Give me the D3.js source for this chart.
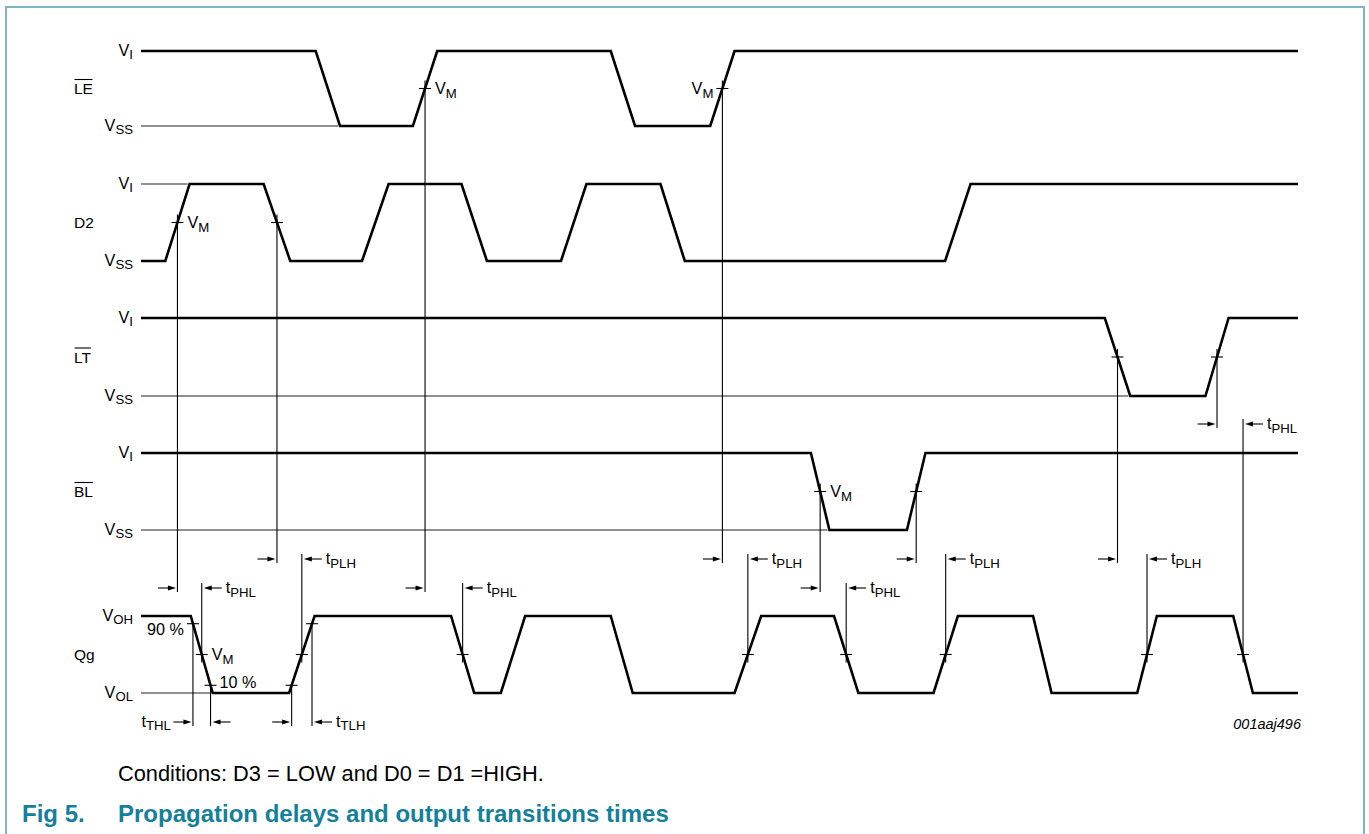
<!DOCTYPE html>
<html><head><meta charset="utf-8">
<script src="https://cdn.jsdelivr.net/npm/d3@7"></script>
<style>
body{margin:0;background:#fff}
svg{display:block}
text{font-family:"Liberation Sans",Arial,Helvetica,sans-serif;fill:#000}
</style>
</head><body>
<svg id="c" width="1369" height="834"></svg>
<script>
// ---------------- data ----------------
const timeDomain = [0, 100];
const signalNames = ["LE", "D2", "LT", "BL", "Qg"];
const overlined = [true, false, true, true, false];
const highLabelSub = ["I", "I", "I", "I", "OH"];
const lowLabelSub = ["SS", "SS", "SS", "SS", "OL"];
const startLevels = [1, 0, 1, 1, 1];
const LE_edges = [[15.1, 17.2], [23.5, 25.6], [40.6, 42.7], [49.2, 51.3]];
const D2_edges = [[2.1, 4.2], [10.6, 12.9], [19.1, 21.4], [27.7, 29.9], [36.3, 38.5], [44.9, 47.0], [69.5, 71.7]];
const LT_edges = [[83.3, 85.5], [92.0, 94.0]];
const BL_edges = [[57.9, 59.5], [66.2, 67.8]];
const Qg_edges = [[4.3, 6.2], [12.8, 15.0], [26.8, 28.8], [31.1, 33.2], [40.6, 42.5], [51.3, 53.6],
                  [59.9, 62.0], [68.5, 70.6], [77.1, 78.7], [86.1, 87.8], [94.4, 96.1]];
// propagation delay measurements (input edge VM -> output edge VM)
const delaySignals = ["D2", "D2", "LE", "LE", "BL", "BL", "LT", "LT"];
const delayInEdges = [0, 1, 1, 3, 0, 1, 0, 1];
const delayOutEdges = [0, 1, 2, 5, 6, 7, 9, 10];
const delayLabels = ["PHL", "PLH", "PHL", "PLH", "PHL", "PLH", "PLH", "PHL"];
const delayTiers = [1, 0, 1, 0, 1, 0, 0, 2];
// output transition time measurements (Qg edges, 10 % / 90 %)
const transEdges = [0, 1];
const transLabels = ["THL", "TLH"];
const transLevels = [0.9, 0.1];
const percentLabels = ["90 %", "10 %"];
// VM annotations: signal, edge, side
const vmSignals = ["LE", "LE", "D2", "BL", "Qg"];
const vmEdges = [1, 3, 0, 0, 0];
const vmSides = ["right", "left", "right", "right", "right"];
const figCode = "001aaj496";
const conditionsText = "Conditions: D3 = LOW and D0 = D1 =HIGH.";
const figNumber = "Fig 5.";
const figTitle = "Propagation delays and output transitions times";

// ---------------- layout ----------------
const svg = d3.select("#c");
const rowHigh = [51, 184, 318, 453, 616];
const rowLow = [126, 261, 396, 530, 693];
const tierY = [559, 588, 424];
const transY = 722;
const x = d3.scaleLinear().domain(timeDomain).range([141, 1298]);
const yRow = signalNames.map((n, i) => d3.scaleLinear().domain([0, 1]).range([rowLow[i], rowHigh[i]]));
const edgesBySignal = [LE_edges, D2_edges, LT_edges, BL_edges, Qg_edges];
const sIdx = n => signalNames.indexOf(n);
const FS = 16.2, SFS = 13.2, NFS = 15.5;

// frame
svg.append("path")
  .attr("d", "M6,840 V7 H1364 V840")
  .attr("fill", "none").attr("stroke", "#7db6c6").attr("stroke-width", 2);

function levelBefore(i, e) { return e % 2 === 0 ? startLevels[i] : 1 - startLevels[i]; }
function crossT(i, e, L) {
  const [a, b] = edgesBySignal[i][e];
  const rising = levelBefore(i, e) === 0;
  return a + (rising ? L : 1 - L) * (b - a);
}
function crossPt(i, e, L) { return [x(crossT(i, e, L)), yRow[i](L)]; }

function subText(g, px, py, main, sub, anchor, opts = {}) {
  const t = g.append("text").attr("x", px).attr("y", py).attr("text-anchor", anchor || "start")
    .style("font-size", (opts.fs || FS) + "px");
  if (opts.italic) t.style("font-style", "italic");
  t.append("tspan").text(main);
  if (sub) t.append("tspan").attr("dy", 3.5).style("font-size", (opts.sfs || SFS) + "px").text(sub);
  return t;
}
function arrow(g, tipX, y, dir, len = 18) {
  g.append("line").attr("x1", tipX - dir * len).attr("x2", tipX - dir * 6).attr("y1", y).attr("y2", y)
    .attr("stroke", "#000").attr("stroke-width", 1.1);
  g.append("path")
    .attr("d", `M${tipX},${y} L${tipX - dir * 8},${y - 2.6} L${tipX - dir * 8},${y + 2.6} Z`)
    .attr("fill", "#000");
}
function vline(g, px, y1, y2) {
  g.append("line").attr("x1", px).attr("x2", px).attr("y1", y1).attr("y2", y2)
    .attr("stroke", "#000").attr("stroke-width", 1.1);
}
function tick(g, p) {
  g.append("line").attr("x1", p[0] - 6).attr("x2", p[0] + 6).attr("y1", p[1]).attr("y2", p[1])
    .attr("stroke", "#000").attr("stroke-width", 1.1);
}

const gRef = svg.append("g"), gMeas = svg.append("g"), gWave = svg.append("g"), gText = svg.append("g");

// waveforms, reference lines and labels
signalNames.forEach((name, i) => {
  const edges = edgesBySignal[i];
  let lv = startLevels[i];
  const pts = [[timeDomain[0], lv]];
  edges.forEach(([a, b]) => { pts.push([a, lv]); lv = 1 - lv; pts.push([b, lv]); });
  pts.push([timeDomain[1], lv]);
  gWave.append("path")
    .attr("d", d3.line().x(d => x(d[0])).y(d => yRow[i](d[1]))(pts))
    .attr("fill", "none").attr("stroke", "#000").attr("stroke-width", 2.6)
    .attr("stroke-linejoin", "miter");
  const opp = 1 - startLevels[i];
  gRef.append("line").attr("x1", x(timeDomain[0])).attr("x2", x(edges[0][1]) - 2)
    .attr("y1", yRow[i](opp)).attr("y2", yRow[i](opp))
    .attr("stroke", "#222").attr("stroke-width", 1.1);
  subText(gText, 133, rowHigh[i] + 4.5, "V", highLabelSub[i], "end");
  subText(gText, 133, rowLow[i] + 4.5, "V", lowLabelSub[i], "end");
  const mid = (rowHigh[i] + rowLow[i]) / 2;
  const t = gText.append("text").attr("x", 74).attr("y", mid + 5.5).style("font-size", NFS + "px").text(name);
  if (overlined[i]) {
    const bb = t.node().getBBox();
    gText.append("line").attr("x1", bb.x + 0.5).attr("x2", bb.x + bb.width - 0.5)
      .attr("y1", mid + 5.5 - 14.5).attr("y2", mid + 5.5 - 14.5)
      .attr("stroke", "#000").attr("stroke-width", 1.1);
  }
});

// propagation delays
const qi = sIdx("Qg");
delaySignals.forEach((sname, k) => {
  const si = sIdx(sname);
  const src = crossPt(si, delayInEdges[k], 0.5);
  const dst = crossPt(qi, delayOutEdges[k], 0.5);
  const ty = tierY[delayTiers[k]];
  tick(gMeas, src);
  tick(gMeas, dst);
  vline(gMeas, src[0], src[1] - 8, ty + 4);
  vline(gMeas, dst[0], ty - 5, dst[1] + 8);
  arrow(gMeas, src[0] - 1.5, ty, 1);
  arrow(gMeas, dst[0] + 2, ty, -1);
  subText(gText, dst[0] + 24, ty + 5, "t", delayLabels[k], "start");
});

// output transition times
transEdges.forEach((e, k) => {
  const pHi = crossPt(qi, e, transLevels[0]);
  const pLo = crossPt(qi, e, transLevels[1]);
  [pHi, pLo].forEach(p => { tick(gMeas, p); vline(gMeas, p[0], p[1] - 1, transY + 4); });
  const first = pHi[0] < pLo[0] ? pHi : pLo;
  const second = pHi[0] < pLo[0] ? pLo : pHi;
  arrow(gMeas, first[0] - 1.5, transY, 1);
  arrow(gMeas, second[0] + 2, transY, -1);
  if (k === 0) subText(gText, first[0] - 22, transY + 4.5, "t", transLabels[k], "end");
  else subText(gText, second[0] + 24, transY + 4.5, "t", transLabels[k], "start");
});
{
  const p90 = crossPt(qi, transEdges[0], transLevels[0]);
  const p10 = crossPt(qi, transEdges[0], transLevels[1]);
  gText.append("text").attr("x", p90[0] - 9).attr("y", p90[1] + 11.5).attr("text-anchor", "end")
    .style("font-size", FS + "px").text(percentLabels[0]);
  gText.append("text").attr("x", p10[0] + 9).attr("y", p10[1] + 3).attr("text-anchor", "start")
    .style("font-size", FS + "px").text(percentLabels[1]);
}

// VM labels
vmSignals.forEach((sname, k) => {
  const p = crossPt(sIdx(sname), vmEdges[k], 0.5);
  if (vmSides[k] === "right") subText(gText, p[0] + 10, p[1] + 5.5, "V", "M", "start");
  else subText(gText, p[0] - 9, p[1] + 5.5, "V", "M", "end");
});

// figure code, conditions, caption
subText(gText, 1301, 729, figCode, null, "end", { italic: true, fs: 14.5 });
gText.append("text").attr("x", 118).attr("y", 781).style("font-size", "21.8px").text(conditionsText);
gText.append("text").attr("x", 22).attr("y", 822).style("font-size", "24px").style("font-weight", "bold")
  .style("fill", "#15809b").text(figNumber);
gText.append("text").attr("x", 118).attr("y", 822).style("font-size", "24px").style("font-weight", "bold")
  .style("fill", "#15809b").text(figTitle);
</script>
</body></html>
